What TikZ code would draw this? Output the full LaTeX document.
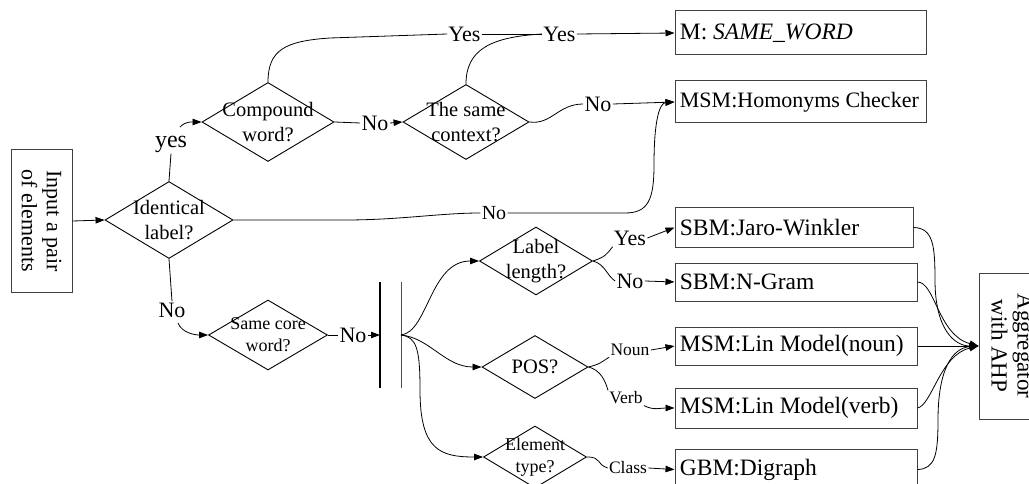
\documentclass[tikz,border=0pt]{standalone}
\usepackage{fontspec}
\setmainfont{Liberation Serif}
\usetikzlibrary{shapes.geometric,arrows.meta}
\begin{document}
\begin{tikzpicture}[x=1pt,y=-1pt,
  line width=0.8pt,
  arr/.style={-{Triangle[length=9pt,width=6.5pt]}},
  dia/.style={draw, diamond, inner sep=0pt, line width=0.9pt},
  dtxt/.style={align=center, font=\fontsize{20.5}{24.5}\selectfont, inner sep=0pt},
  stxt/.style={align=center, font=\fontsize{18}{22}\selectfont, inner sep=0pt},
  box/.style={draw=black!75, rectangle, inner sep=0pt, line width=1pt},
  btxt/.style={anchor=west, font=\fontsize{23.5}{26}\selectfont, inner sep=0pt},
  lbl/.style={font=\fontsize{22}{24}\selectfont, inner sep=1pt},
  slbl/.style={font=\fontsize{17.5}{20}\selectfont, inner sep=1pt},
]
\useasboundingbox (0,0) rectangle (1029,484);
\clip (0,0) rectangle (1029,484);

% input and aggregator
\node[box, rotate=-90, minimum width=142, minimum height=61, align=center,
      font=\fontsize{22}{25}\selectfont] (in) at (41.5,221) {Input a pair\\of elements};
\node[box, rotate=-90, minimum width=146, minimum height=66, align=center,
      font=\fontsize{23}{26}\selectfont] (agg) at (1012,346) {Aggregator\\with AHP};

% diamonds
\node[dia, minimum width=128, minimum height=77] (id) at (169,220) {};
\node[dtxt] (idt) at (id) {Identical\\label?};
\node[dia, minimum width=132, minimum height=79] (cw) at (268,122) {};
\node[dtxt] (cwt) at (cw) {Compound\\word?};
\node[dia, minimum width=126, minimum height=75] (sc) at (466,122) {};
\node[dtxt] (sct) at (sc) {The same\\context?};
\node[dia, minimum width=119, minimum height=70] (core) at (268,335) {};
\node[stxt] (coret) at (core) {Same core\\word?};
\node[dia, minimum width=113, minimum height=68] (ll) at (536,261) {};
\node[dtxt] (llt) at (ll) {Label\\length?};
\node[dia, minimum width=106, minimum height=63] (pos) at (535,367) {};
\node[dtxt] (post) at (pos) {POS?};
\node[dia, minimum width=103, minimum height=62] (et) at (535,457) {};
\node[stxt] (ett) at (et) {Element\\type?};

% boxes
\node[box, minimum width=251, minimum height=44] (m) at (800.5,33) {};
\node[btxt] (mt) at ([xshift=5pt]m.west) {M: \textit{SAME\_WORD}};
\node[box, minimum width=251, minimum height=42] (hom) at (800.5,102) {};
\node[btxt, font=\fontsize{22}{25}\selectfont] (homt) at ([xshift=5pt]hom.west) {MSM:Homonyms Checker};
\node[box, minimum width=238, minimum height=39] (jw) at (794,227.5) {};
\node[btxt] (jwt) at ([xshift=5pt]jw.west) {SBM:Jaro-Winkler};
\node[box, minimum width=242, minimum height=38] (ng) at (796,282) {};
\node[btxt] (ngt) at ([xshift=5pt]ng.west) {SBM:N-Gram};
\node[box, minimum width=242, minimum height=38] (noun) at (796,346) {};
\node[btxt] (nount) at ([xshift=5pt]noun.west) {MSM:Lin Model(noun)};
\node[box, minimum width=242, minimum height=40] (verb) at (796,408) {};
\node[btxt] (verbt) at ([xshift=5pt]verb.west) {MSM:Lin Model(verb)};
\node[box, minimum width=242, minimum height=41] (gbm) at (796,469.5) {};
\node[btxt] (gbmt) at ([xshift=5pt]gbm.west) {GBM:Digraph};

% parallel bar
\coordinate (b1t) at (380,282); \coordinate (b1b) at (380,388);
\coordinate (b2t) at (401,282); \coordinate (b2b) at (401,388);
\coordinate (barL) at (380,335); \coordinate (barR) at (401,335);
\draw[line width=1.2pt] (b1t) -- (b1b);
\draw[black!70, line width=0.8pt] (b2t) -- (b2b);

% labels
\node[lbl, font=\fontsize{24}{26}\selectfont] (lyes) at (171,144) {yes};
\node[lbl] (lyes1) at (464.5,34) {Yes};
\node[lbl] (lyes2) at (559.5,34) {Yes};
\node[lbl] (lno1) at (375,123) {No};
\node[lbl] (lno2) at (598,104) {No};
\node[lbl, font=\fontsize{20}{22}\selectfont] (lno3) at (494,213) {No};
\node[lbl] (lno4) at (172,310) {No};
\node[lbl] (lno5) at (353,335) {No};
\node[lbl] (lyes3) at (630,238) {Yes};
\node[lbl] (lno6) at (630,281) {No};
\node[slbl] (lnoun) at (630,350) {Noun};
\node[slbl] (lverb) at (626,398) {Verb};
\node[slbl] (lclass) at (628,468) {Class};
\coordinate (yesout) at (180,127);
\coordinate (noout) at (178,323);

% connectors
\draw[arr] (in.north) -- (id.west);
\draw (id.north) -- (lyes.south);
\draw[arr] (yesout) .. controls (186,121) and (192,122) .. (cw.west);
\draw (cw.east) -- (lno1.west);
\draw[arr] (lno1.east) -- (sc.west);
\draw (cw.north) .. controls (268,50) and (285,41) .. (330,38) -- (lyes1.west);
\draw (lyes1.east) -- (lyes2.west);
\draw (sc.north) .. controls (466,50) and (490,37) .. (lyes2.west);
\draw[arr] (lyes2.east) -- (m.west);
\draw (sc.east) .. controls +(22,3) and +(-25,0) .. (lno2.west);
\draw[arr] (lno2.east) -- (hom.west);
\draw (id.east) -- (345,220) .. controls (400,220) and (440,213) .. (lno3.west);
\draw[arr] (lno3.east) -- (625,213) .. controls (648,213) and (654,200) .. (654,165)
   .. controls (654,118) and (660,103) .. (hom.west);
\draw (id.south) -- (lno4.north);
\draw[arr] (noout) .. controls (182,333) and (195,335) .. (core.west);
\draw (core.east) -- (lno5.west);
\draw[arr] (lno5.east) -- (barL);
\draw[arr] (barR) .. controls (428,332) and (430,261) .. (ll.west);
\draw[arr] (barR) .. controls (430,338) and (445,367) .. (pos.west);
\draw[arr] (barR) .. controls (417,337) and (420,350) .. (420,390)
   .. controls (420,450) and (440,457) .. (et.west);
\draw (ll.east) .. controls +(12,-4) and +(-6,8) .. (lyes3.south west);
\draw[arr] (lyes3.east) -- (jw.west);
\draw (ll.east) .. controls +(12,3) and +(-8,-5) .. (lno6.west);
\draw[arr] (lno6.east) -- (ng.west);
\draw (pos.east) .. controls +(12,-3) and +(-8,5) .. (lnoun.south west);
\draw[arr] (lnoun.east) -- (noun.west);
\draw (pos.east) .. controls +(12,3) and +(-3,-10) .. (lverb.north west);
\draw[arr] (lverb.south east) .. controls +(10,5) and +(-15,0) .. (verb.west);
\draw (et.east) .. controls +(15,0) and +(-12,-4) .. (lclass.west);
\draw[arr] (lclass.east) -- (gbm.west);

% to aggregator
\draw[arr] (jw.east) .. controls (933,228) and (935,245) .. (935,280)
   .. controls (935,330) and (955,346) .. (agg.south);
\draw[arr] (ng.east) .. controls (935,282) and (938,335) .. (agg.south);
\draw[arr] (noun.east) -- (agg.south);
\draw[arr] (verb.east) .. controls (932,405) and (940,355) .. (agg.south);
\draw[arr] (gbm.east) .. controls (935,469) and (938,455) .. (938,420)
   .. controls (938,370) and (952,348) .. (agg.south);
\end{tikzpicture}
\end{document}
